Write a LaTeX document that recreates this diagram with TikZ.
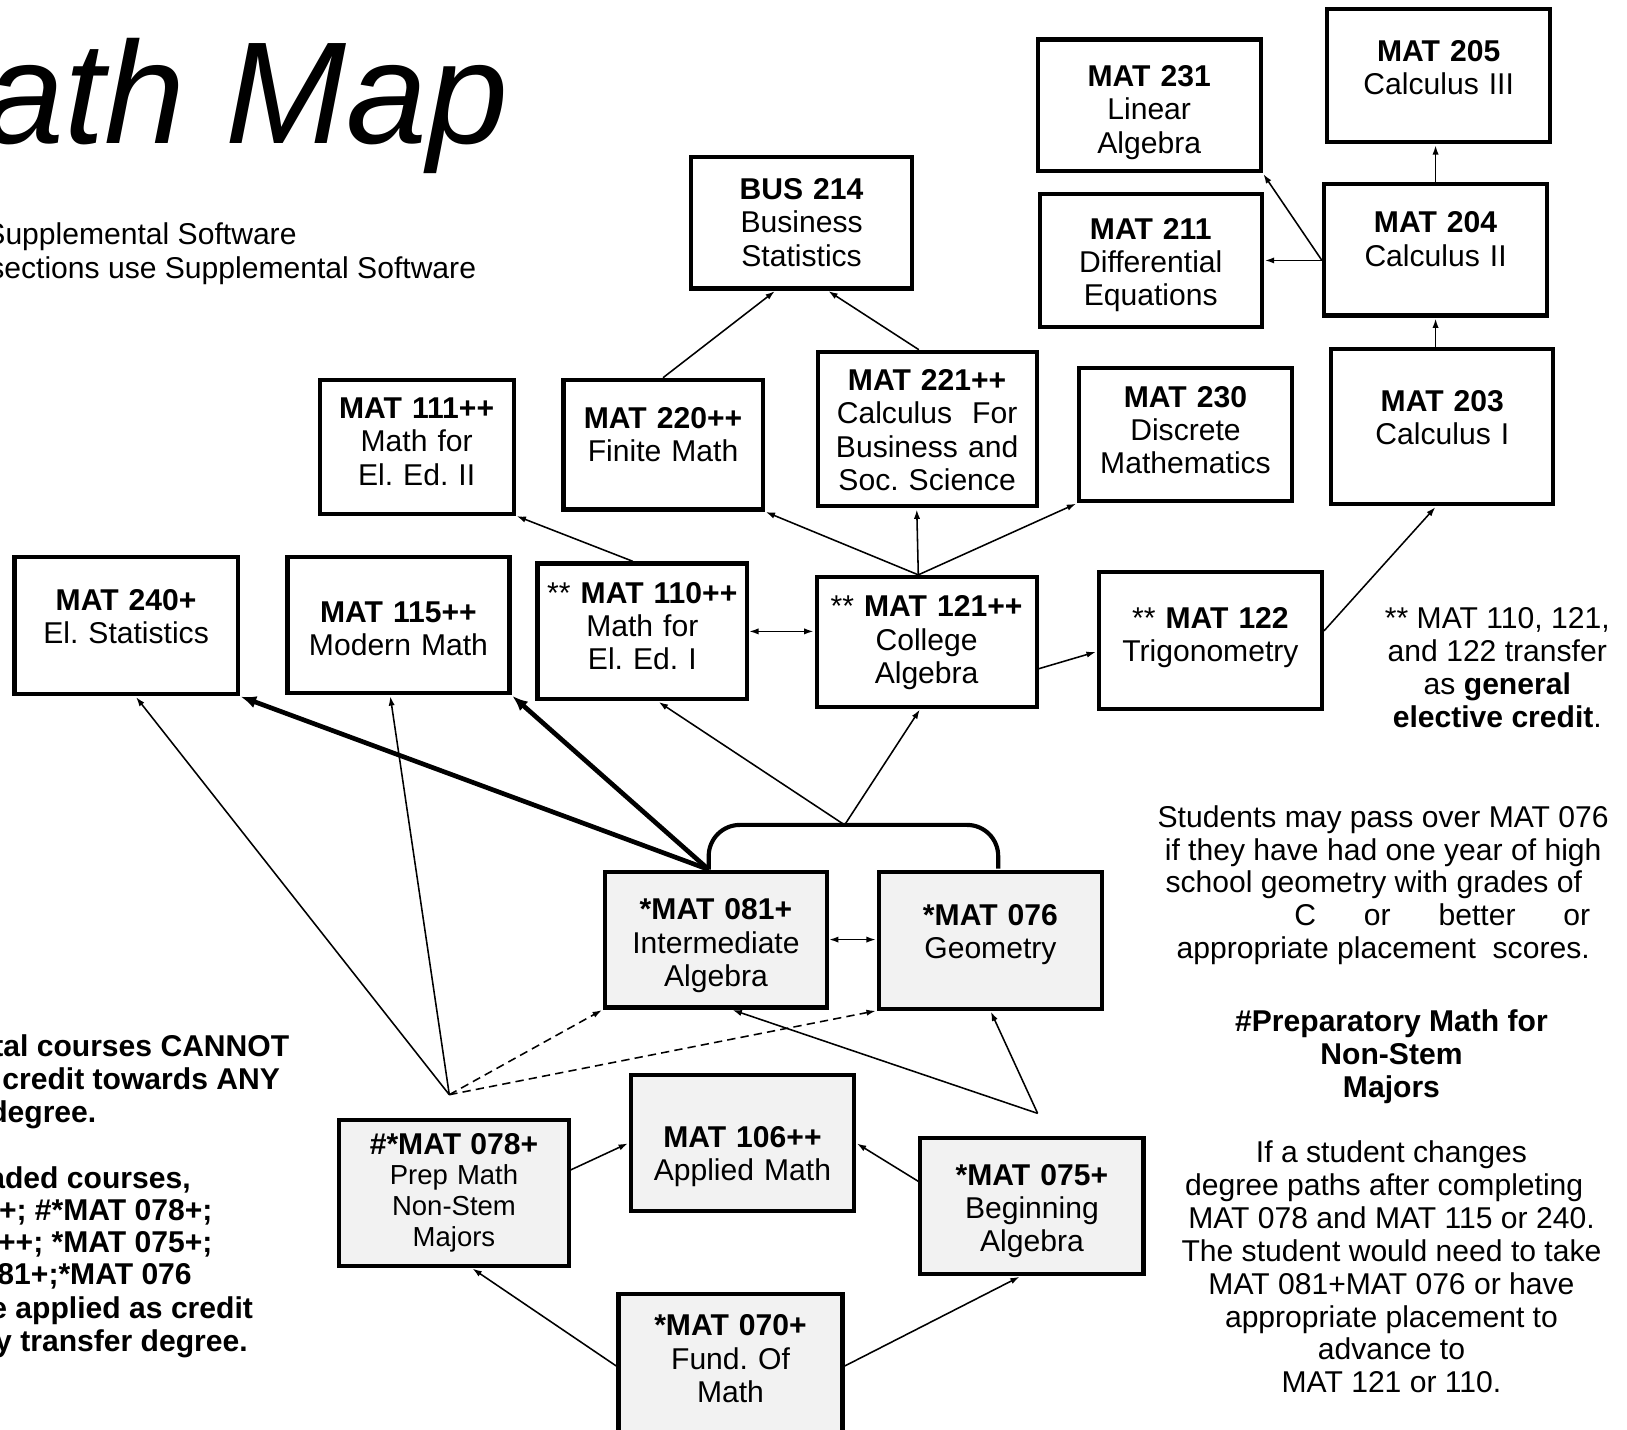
\documentclass[tikz,border=0pt]{standalone}
\usepackage{fontspec}
\setmainfont{Liberation Sans}
\usetikzlibrary{arrows.meta}

\begin{document}
\begin{tikzpicture}[x=1pt,y=-1pt,>={Latex[length=9pt,width=6pt]},shorten >=1pt,
  course/.style={draw,line width=4pt,align=center,inner sep=0pt,text width=190pt,font=\fontsize{29}{32}\selectfont\frenchspacing},
  dev/.style={course,fill=black!5},
  lift/.style={text height=0pt,text depth=#1},
  link/.style={->,line width=1.5pt},
  heavy/.style={-{Latex[length=15pt,width=12pt]},line width=4.5pt},
  maybe/.style={dash pattern=on 8pt off 5pt},
  note/.style={align=center,inner sep=0pt,font=\fontsize{29}{32}\selectfont},
  cut/.style={anchor=base east,inner sep=0pt,font=\fontsize{29}{32}\selectfont},
  bcut/.style={cut,font=\fontsize{29}{32}\selectfont\bfseries}]
  \useasboundingbox (0,0) rectangle (1568,1378);

  % heading, cut off at the left edge
  \path
  node[cut,font=\fontsize{140}{150}\selectfont\itshape] (title) at (490,138) {ath Map}
  node[cut] (soft1) at (286,236) {Supplemental Software}
  node[cut] (soft2) at (459,268) {sections use Supplemental Software}
  ;

  % credit courses
  \path
  node[course,lift=36pt,minimum width=215pt,minimum height=127pt] (m231) at (1107.5,101.5) {\textbf{MAT 231}\\Linear\\Algebra}
  node[course,lift=27pt,minimum width=215pt,minimum height=128pt] (m205) at (1386.5,73) {\textbf{MAT 205}\\Calculus III}
  node[course,lift=44pt,minimum width=213pt,minimum height=127pt] (bus214) at (772.5,214.5) {\textbf{BUS 214}\\Business\\Statistics}
  node[course,lift=41pt,minimum width=214pt,minimum height=128pt] (m211) at (1109,251) {\textbf{MAT 211}\\Differential\\Equations}
  node[course,lift=32pt,minimum width=215pt,minimum height=127pt] (m204) at (1383.5,240.5) {\textbf{MAT 204}\\Calculus II}
  node[course,lift=54pt,text width=185pt,minimum width=187pt,minimum height=129pt] (m111) at (401.5,430.5) {\textbf{MAT 111++}\\Math for\\El. Ed. II}
  node[course,lift=32pt,minimum width=192pt,minimum height=125pt] (m220) at (639,428.5) {\textbf{MAT 220++}\\Finite Math}
  node[course,lift=74pt,minimum width=211pt,minimum height=149pt] (m221) at (893.5,413.5) {\textbf{MAT 221++}\\Calculus\ \ For\\Business and\\Soc. Science}
  node[course,lift=53pt,minimum width=205pt,minimum height=128pt] (m230) at (1142.5,419) {\textbf{MAT 230}\\Discrete\\Mathematics}
  node[course,lift=29pt,minimum width=214pt,minimum height=150pt] (m203) at (1390,411) {\textbf{MAT 203}\\Calculus I}
  node[course,lift=29pt,minimum width=215pt,minimum height=132pt] (m240) at (121.5,603) {\textbf{MAT 240+}\\El. Statistics}
  node[course,lift=6pt,minimum width=214pt,minimum height=131pt] (m115) at (384,602.5) {\textbf{MAT 115++}\\Modern Math}
  node[course,lift=54pt,minimum width=202pt,minimum height=131pt] (m110) at (619,608.5) {** \textbf{MAT 110++}\\Math for\\El. Ed. I}
  node[course,lift=48pt,minimum width=212pt,minimum height=125pt] (m121) at (893,618.5) {** \textbf{MAT 121++}\\College\\Algebra}
  node[course,lift=23pt,minimum width=215pt,minimum height=132pt] (m122) at (1166.5,617) {** \textbf{MAT 122}\\Trigonometry}
  ;

  % developmental courses
  \path
  node[dev,lift=38pt,minimum width=214pt,minimum height=131pt] (m081) at (690,905.5) {\textbf{*MAT 081+}\\Intermediate\\Algebra}
  node[dev,lift=29pt,minimum width=215pt,minimum height=132pt] (m076) at (954.5,906) {\textbf{*MAT 076}\\Geometry}
  node[dev,lift=74pt,minimum width=221pt,minimum height=141pt,font=\fontsize{26.5}{29.5}\selectfont\frenchspacing] (m078) at (437.5,1149.5) {{\fontsize{29}{32}\selectfont\bfseries \#*MAT 078+}\\Prep Math\\Non-Stem\\Majors}
  node[dev,text height=8pt,text depth=0pt,minimum width=215pt,minimum height=131pt] (m106) at (715.5,1101.5) {\textbf{MAT 106++}\\Applied Math}
  node[dev,lift=40pt,minimum width=215pt,minimum height=131pt] (m075) at (994.5,1162.5) {\textbf{*MAT 075+}\\Beginning\\Algebra}
  node[dev,lift=58pt,minimum width=216pt,minimum height=139pt] (m070) at (704,1316.5) {\textbf{*MAT 070+}\\Fund. Of\\Math}
  ;

  \coordinate (jtop) at (814,795);
  \coordinate (j078) at (433,1055);
  \coordinate (j075) at (1000,1073);
  \coordinate (lf) at ([xshift=-7pt]m081.north);
  \coordinate (rf) at ([xshift=7.5pt]m076.north);

  % 081 + 076 together
  \draw[line width=4pt,rounded corners=30pt] (lf) -- (lf |- jtop) -- (rf |- jtop) -- (rf);

  \path[link]
  (m204.north) edge (m204.north |- m205.south)
  (m204.west |- m211.east) edge (m211.east)
  (m204.west |- m211.east) edge (m231.south east)
  (m204.south |- m203.north) edge (m204.south)

  (m220.north) edge ([xshift=-25pt]bus214.south)
  ([xshift=-8pt]m221.north) edge ([xshift=25pt]bus214.south)

  ([xshift=-9pt]m110.north) edge (m111.south east)
  ([xshift=-8pt]m121.north) edge (m220.south east)
  ([xshift=-8pt]m121.north) edge ([xshift=-10pt]m221.south)
  ([xshift=-8pt]m121.north) edge (m230.south west)

  (m110.east) edge[<->] (m121.west |- m110.east)
  ([yshift=-26pt]m121.east) edge ([yshift=-11pt]m122.west)
  ([yshift=9pt]m122.east) edge ([xshift=-6pt]m203.south)

  (jtop) edge ([xshift=-6pt]m121.south)
  (jtop) edge ([xshift=15pt]m110.south)

  (j078) edge ([xshift=9pt]m240.south)
  (j078) edge ([xshift=-8pt]m115.south)
  (j078) edge[maybe] (m081.south west)
  (j078) edge[maybe] (m076.south west)

  (j075) edge ([xshift=15pt]m081.south)
  (j075) edge (m076.south)

  (m081.east) edge[<->] (m076.west |- m081.east)

  ([yshift=22pt]m078.east) edge (m106.west)
  ([yshift=24pt]m075.west) edge (m106.east)
  (m070.west) edge ([xshift=17pt]m078.south)
  (m070.east) edge ([xshift=-11pt]m075.south)
  ;

  \path[heavy]
  (lf) edge (m240.south east)
  (lf) edge (m115.south east)
  ;

  % notes on the right
  \path
  node[note] (credit) at (1443,643.5) {** MAT 110, 121,\\and 122 transfer\\as \textbf{general}\\\textbf{elective credit}.}
  node[note,font=\fontsize{29}{31.5}\selectfont] (pass) at (1333,853) {Students may pass over MAT 076\\if they have had one year of high\\\hspace*{-18pt}school geometry with grades of\\\hspace*{114pt}\makebox[285pt][s]{C or better or}\\appropriate placement\ \ scores.}
  node[note,font=\fontsize{29}{31.5}\selectfont\bfseries] (prep) at (1341,1018.5) {\#Preparatory Math for\\Non-Stem\\Majors}
  node[note,font=\fontsize{29}{31.7}\selectfont] (change) at (1341,1221) {If a student changes\\\hspace*{-14pt}degree paths after completing\\MAT 078 and MAT 115 or 240.\\The student would need to take\\MAT 081+MAT 076 or have\\appropriate placement to\\advance to\\MAT 121 or 110.}
  ;

  % notes on the left, cut off at the edge
  \path
  node[bcut] (dev1) at (279,1018) {tal courses CANNOT}
  node[bcut] (dev2) at (270,1050) {credit towards ANY}
  node[bcut] (dev3) at (93,1082) {degree.}
  node[bcut] (dev4) at (184,1145) {aded courses,}
  node[bcut] (dev5) at (205,1176) {+; \#*MAT 078+;}
  node[bcut] (dev6) at (205,1207) {++; *MAT 075+;}
  node[bcut] (dev7) at (185,1238) {81+;*MAT 076}
  node[bcut] (dev8) at (244,1271) {e applied as credit}
  node[bcut] (dev9) at (239,1302) {y transfer degree.}
  ;
\end{tikzpicture}
\end{document}
